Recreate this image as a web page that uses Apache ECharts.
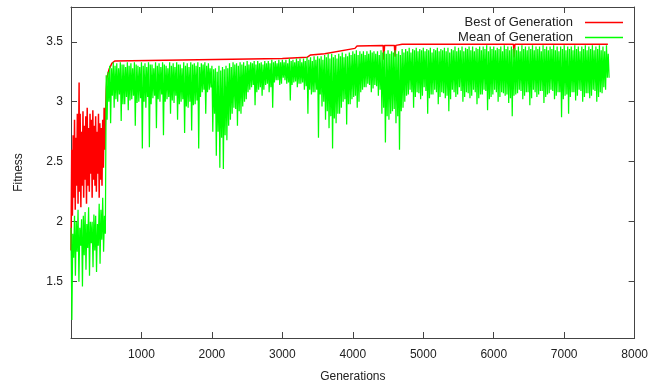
<!DOCTYPE html>
<html>
<head>
<meta charset="utf-8">
<script src="https://cdn.jsdelivr.net/npm/echarts@6/dist/echarts.min.js"></script>
<style>
  html, body { margin: 0; padding: 0; background: #fff; }
  #chart { width: 651px; height: 388px; }
</style>
</head>
<body>
<div id="chart"></div>
<script>
// mean of generation, read off every 50 generations:
// top edge, spike tip, second top, bottom of the dense band
const step = 50;
const meanHigh = [
  1.95, 2.05, 2.10, 2.02, 2.08, 2.12, 2.00, 2.05, 2.15, 2.20,
  3.22, 3.30, 3.33, 3.32, 3.33, 3.31, 3.33, 3.32, 3.33, 3.30,
  3.33, 3.32, 3.33, 3.31, 3.33, 3.32, 3.33, 3.30, 3.33, 3.32,
  3.33, 3.31, 3.33, 3.32, 3.33, 3.32, 3.33, 3.32, 3.33, 3.32,
  3.30, 3.28, 3.30, 3.29, 3.30, 3.32, 3.33, 3.32, 3.33, 3.33,
  3.34, 3.33, 3.34, 3.34, 3.33, 3.34, 3.34, 3.35, 3.34, 3.35,
  3.35, 3.35, 3.36, 3.35, 3.36, 3.36, 3.36, 3.37, 3.37, 3.38,
  3.38, 3.38, 3.39, 3.40, 3.40, 3.39, 3.40, 3.41, 3.40, 3.41,
  3.42, 3.43, 3.42, 3.42, 3.42, 3.43, 3.42, 3.42, 3.43, 3.42,
  3.43, 3.42, 3.43, 3.42, 3.44, 3.44, 3.45, 3.44, 3.45, 3.44,
  3.45, 3.44, 3.45, 3.44, 3.45, 3.44, 3.45, 3.45, 3.44, 3.46,
  3.45, 3.46, 3.45, 3.46, 3.46, 3.45, 3.46, 3.46, 3.47, 3.46,
  3.46, 3.45, 3.46, 3.47, 3.46, 3.46, 3.45, 3.46, 3.47, 3.46,
  3.46, 3.47, 3.46, 3.46, 3.47, 3.46, 3.46, 3.47, 3.46, 3.46,
  3.47, 3.46, 3.46, 3.47, 3.46, 3.46, 3.47, 3.46, 3.47, 3.46,
  3.47, 3.46, 3.47
];
const meanLow = [
  1.18, 1.55, 1.50, 1.46, 1.60, 1.55, 1.62, 1.58, 1.65, 1.75,
  2.85, 2.82, 2.95, 3.00, 2.84, 2.98, 2.93, 3.02, 2.80, 3.00,
  2.61, 2.95, 2.62, 3.03, 2.78, 3.00, 2.72, 3.02, 2.90, 2.99,
  2.85, 3.00, 2.74, 2.95, 2.76, 2.98, 2.61, 3.08, 2.90, 3.10,
  2.75, 2.55, 2.45, 2.44, 2.68, 2.85, 2.95, 2.80, 2.90, 3.00,
  3.08, 3.12, 2.97, 3.10, 3.05, 3.14, 3.08, 2.95, 3.18, 3.14,
  3.20, 3.15, 3.01, 3.16, 3.12, 3.15, 3.10, 2.90, 3.06, 3.08,
  2.70, 2.96, 2.85, 2.78, 2.61, 2.82, 2.90, 3.00, 2.81, 2.98,
  3.04, 2.95, 3.08, 3.12, 3.15, 3.08, 3.14, 3.05, 2.90, 2.66,
  2.85, 2.92, 2.82, 2.60, 2.95, 3.05, 3.10, 2.95, 3.08, 3.02,
  3.12, 2.90, 3.06, 3.10, 2.98, 3.08, 3.03, 2.92, 3.10, 3.04,
  3.12, 3.00, 3.08, 3.03, 3.10, 2.98, 3.06, 3.10, 2.93, 3.04,
  3.10, 3.00, 3.08, 3.05, 2.99, 2.88, 3.06, 3.10, 3.02, 3.08,
  2.97, 3.10, 3.04, 3.09, 2.99, 3.06, 3.10, 3.02, 3.08, 2.87,
  3.05, 2.90, 3.08, 3.01, 3.10, 3.00, 3.07, 3.03, 3.10, 3.00,
  3.08, 3.12, 3.20
];
const meanHigh2 = [
  1.90, 2.00, 1.95, 2.05, 1.98, 2.00, 2.06, 1.98, 2.10, 2.05,
  3.25, 3.28, 3.30, 3.28, 3.31, 3.29, 3.30, 3.28, 3.31, 3.29,
  3.30, 3.29, 3.31, 3.28, 3.30, 3.29, 3.31, 3.28, 3.30, 3.29,
  3.31, 3.28, 3.30, 3.29, 3.31, 3.30, 3.29, 3.31, 3.30, 3.28,
  3.27, 3.25, 3.26, 3.27, 3.28, 3.29, 3.31, 3.30, 3.31, 3.30,
  3.31, 3.32, 3.31, 3.32, 3.31, 3.32, 3.32, 3.33, 3.32, 3.33,
  3.33, 3.32, 3.34, 3.33, 3.34, 3.33, 3.34, 3.35, 3.34, 3.35,
  3.36, 3.35, 3.37, 3.36, 3.37, 3.36, 3.38, 3.37, 3.38, 3.39,
  3.40, 3.39, 3.40, 3.39, 3.40, 3.41, 3.40, 3.39, 3.41, 3.40,
  3.40, 3.41, 3.40, 3.39, 3.41, 3.42, 3.41, 3.43, 3.42, 3.43,
  3.42, 3.43, 3.41, 3.43, 3.42, 3.43, 3.42, 3.41, 3.43, 3.42,
  3.43, 3.42, 3.44, 3.43, 3.42, 3.44, 3.43, 3.44, 3.42, 3.44,
  3.43, 3.44, 3.42, 3.44, 3.43, 3.44, 3.43, 3.42, 3.44, 3.43,
  3.44, 3.43, 3.44, 3.42, 3.44, 3.43, 3.44, 3.43, 3.42, 3.44,
  3.43, 3.44, 3.43, 3.44, 3.42, 3.44, 3.43, 3.44, 3.43, 3.44,
  3.43, 3.42, 3.40
];
const meanCore = [
  1.70, 1.75, 1.80, 1.72, 1.78, 1.82, 1.76, 1.80, 1.85, 1.90,
  3.00, 3.05, 3.02, 3.06, 2.98, 3.04, 3.01, 3.05, 2.99, 3.03,
  3.00, 3.04, 2.98, 3.05, 3.02, 3.06, 3.00, 3.04, 3.01, 3.05,
  2.98, 3.02, 2.96, 3.00, 2.97, 3.01, 3.04, 3.10, 3.08, 3.12,
  2.90, 2.75, 2.70, 2.72, 2.80, 2.90, 2.94, 2.92, 2.96, 3.02,
  3.10, 3.14, 3.08, 3.12, 3.10, 3.15, 3.12, 3.16, 3.18, 3.15,
  3.18, 3.16, 3.14, 3.17, 3.15, 3.16, 3.13, 3.10, 3.08, 3.10,
  3.06, 3.00, 2.92, 2.88, 2.86, 2.90, 2.95, 3.02, 2.98, 3.02,
  3.05, 3.00, 3.10, 3.12, 3.14, 3.11, 3.13, 3.10, 2.95, 2.88,
  2.90, 2.94, 2.88, 2.92, 3.00, 3.06, 3.08, 3.04, 3.07, 3.05,
  3.09, 3.03, 3.06, 3.08, 3.04, 3.07, 3.05, 3.02, 3.08, 3.06,
  3.09, 3.04, 3.07, 3.05, 3.08, 3.03, 3.06, 3.09, 3.02, 3.06,
  3.08, 3.04, 3.07, 3.06, 3.03, 3.05, 3.07, 3.09, 3.05, 3.08,
  3.03, 3.08, 3.06, 3.09, 3.04, 3.07, 3.09, 3.05, 3.08, 3.02,
  3.06, 3.04, 3.08, 3.05, 3.09, 3.04, 3.07, 3.05, 3.09, 3.04,
  3.07, 3.10, 3.20
];

// best of generation
const bestGen = [
  0, 10, 20, 30, 40, 50, 60, 70, 80, 90, 100, 110, 115, 120, 130, 140, 150,
  160, 170, 180, 190, 200, 210, 220, 230, 240, 250, 260, 270, 280, 290, 300,
  310, 320, 330, 340, 350, 360, 370, 380, 390, 400, 410, 420, 430, 440, 450,
  460, 470, 480, 490, 500, 510, 540, 580, 620, 3000, 3350, 3400, 3600, 3620,
  4030, 4060, 4430, 4440, 4450, 4590, 4600, 4610, 4700, 6280, 6290, 6300, 7620
];
const bestVal = [
  1.76, 2.60, 2.05, 2.72, 2.20, 2.85, 2.10, 2.70, 2.30, 2.90, 2.15, 2.80, 3.16, 2.25, 2.90, 2.12, 2.75,
  2.30, 2.92, 2.20, 2.80, 2.35, 2.88, 2.15, 2.95, 2.30, 2.78, 2.25, 2.90, 2.40, 2.85, 2.20,
  2.93, 2.35, 2.80, 2.30, 2.88, 2.25, 2.75, 2.40, 2.90, 2.20, 2.82, 2.35, 2.78, 2.30, 2.85,
  2.45, 2.95, 2.60, 2.90, 3.10, 3.20, 3.27, 3.32, 3.34, 3.36, 3.37, 3.39, 3.40, 3.415,
  3.445, 3.465, 3.47, 3.35, 3.47, 3.47, 3.375, 3.47, 3.48, 3.48, 3.37, 3.48, 3.48
];

const xTicks = [1000, 2000, 3000, 4000, 5000, 6000, 7000, 8000];
const yTicks = [1.5, 2, 2.5, 3, 3.5];

const meanData = [];
meanHigh.forEach((h, i) => {
  const g = i * step;
  meanData.push([g, h]);
  meanData.push([g + step / 4, meanLow[i]]);
  meanData.push([g + step / 2, meanHigh2[i]]);
  meanData.push([g + (3 * step) / 4, meanCore[i]]);
});
const bestData = bestGen.map((g, i) => [g, bestVal[i]]);

const font = "Liberation Sans";
const frame = { show: true, onZero: false, lineStyle: { color: "#444", width: 1 } };

const chart = echarts.init(document.getElementById("chart"));
chart.setOption({
  animation: false,
  grid: { left: 71, right: 11, top: 7, bottom: 50 },
  legend: {
    data: ["Best of Generation", "Mean of Generation"],
    orient: "vertical",
    right: 23,
    top: 10,
    align: "right",
    icon: "rect",
    itemWidth: 38,
    itemHeight: 1.5,
    itemGap: 0,
    textStyle: { fontFamily: font, fontSize: 13, color: "#222", lineHeight: 15, padding: [0, 7, 0, 0] },
  },
  xAxis: [
    {
      type: "value",
      min: 0,
      max: 8000,
      name: "Generations",
      nameLocation: "middle",
      nameGap: 33,
      nameTextStyle: { fontFamily: font, fontSize: 12, color: "#222" },
      axisLine: frame,
      axisTick: { inside: true, length: 6, customValues: xTicks, lineStyle: { color: "#444" } },
      axisLabel: {
        customValues: xTicks,
        margin: 11,
        fontFamily: font,
        fontSize: 12,
        color: "#222",
        formatter: (v) => String(v),
      },
      splitLine: { show: false },
    },
    {
      type: "value",
      position: "top",
      min: 0,
      max: 8000,
      axisLine: frame,
      axisTick: { inside: true, length: 6, customValues: xTicks, lineStyle: { color: "#444" } },
      axisLabel: { show: false },
      splitLine: { show: false },
    },
  ],
  yAxis: [
    {
      type: "value",
      min: 1.03,
      max: 3.79,
      name: "Fitness",
      nameLocation: "middle",
      nameGap: 46,
      nameTextStyle: { fontFamily: font, fontSize: 12, color: "#222" },
      axisLine: frame,
      axisTick: { inside: true, length: 6, customValues: yTicks, lineStyle: { color: "#444" } },
      axisLabel: { customValues: yTicks, margin: 8, fontFamily: font, fontSize: 12, color: "#222" },
      splitLine: { show: false },
    },
    {
      type: "value",
      position: "right",
      min: 1.03,
      max: 3.79,
      axisLine: frame,
      axisTick: { inside: true, length: 6, customValues: yTicks, lineStyle: { color: "#444" } },
      axisLabel: { show: false },
      splitLine: { show: false },
    },
  ],
  series: [
    {
      name: "Best of Generation",
      type: "line",
      data: bestData,
      symbol: "none",
      color: "#ff0000",
      lineStyle: { color: "#ff0000", width: 1.5 },
    },
    {
      name: "Mean of Generation",
      type: "line",
      data: meanData,
      symbol: "none",
      color: "#00ff00",
      lineStyle: { color: "#00ff00", width: 1.25 },
    },
  ],
});

window.addEventListener("resize", () => chart.resize());
</script>
</body>
</html>
